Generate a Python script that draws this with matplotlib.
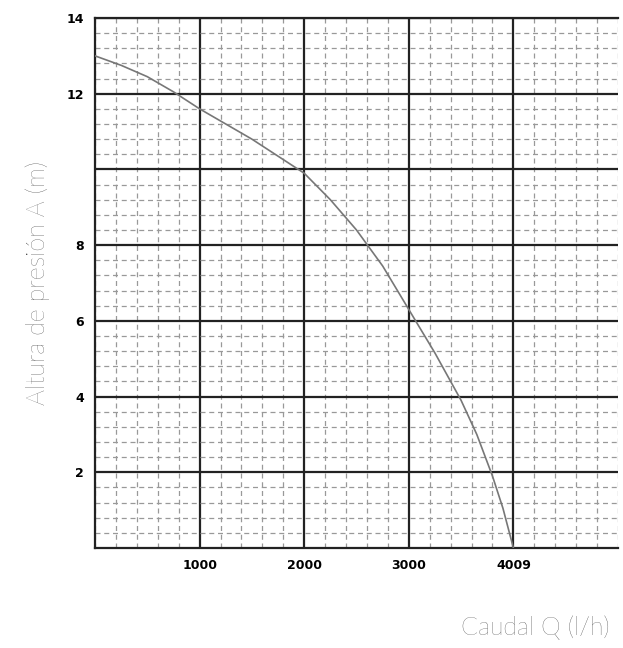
import matplotlib
matplotlib.use("Agg")
import matplotlib.pyplot as plt
from matplotlib.ticker import MultipleLocator

flow = [0, 250, 500, 750, 1000, 1250, 1500, 1750, 2000, 2250, 2500, 2750, 3000, 3250, 3500, 3650, 3800, 3900, 4000]
head = [13.0, 12.75, 12.45, 12.05, 11.6, 11.2, 10.8, 10.35, 9.9, 9.2, 8.4, 7.45, 6.3, 5.15, 3.9, 3.0, 1.9, 1.05, 0.0]
xticks = [1000, 2000, 3000, 4000]
xticklabels = ["1000", "2000", "3000", "4009"]
yticks = [2, 4, 6, 8, 10, 12, 14]
yticklabels = ["2", "4", "6", "8", "", "12", "14"]

fig = plt.figure(figsize=(6.23, 6.48), dpi=100)
ax = fig.add_axes([95/623, 1-548/648, 523/623, 530/648])
ax.plot(flow, head, color="#777777", lw=1.2, zorder=3)
ax.set_xlim(0, 5000)
ax.set_ylim(0, 14)
ax.xaxis.set_minor_locator(MultipleLocator(200))
ax.yaxis.set_minor_locator(MultipleLocator(0.4))
ax.set_xticks(xticks)
ax.set_xticklabels(xticklabels, fontsize=9, fontweight="bold", family="Liberation Sans Narrow")
ax.set_yticks(yticks)
ax.set_yticklabels(yticklabels, fontsize=9, fontweight="bold", family="Liberation Sans Narrow")
ax.grid(which="minor", color="#999999", ls=(0, (4, 3)), lw=0.9)
ax.grid(which="major", color="#222222", ls="-", lw=1.6)
ax.tick_params(which="both", length=0, pad=8)
for s in ax.spines.values():
    s.set_color("#222222"); s.set_linewidth(1.6)
ax.spines["right"].set_visible(False)
ax.set_ylabel("Altura de presión A (m)", fontsize=18, color="#222222", labelpad=12, family="Lato", fontweight="light")
fig.text(610/623, 1-628/648, "Caudal Q (l/h)", fontsize=18, color="#222222", ha="right", va="center", family="Lato", fontweight="light")
fig.savefig("out.png", dpi=100)
